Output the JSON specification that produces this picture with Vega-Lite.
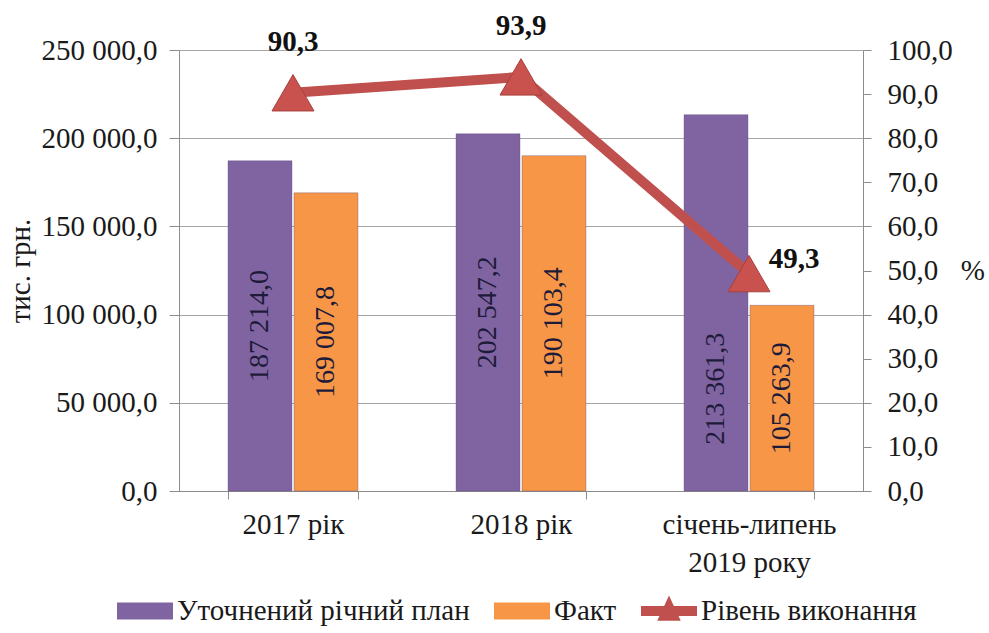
{
  "$schema": "https://vega.github.io/schema/vega-lite/v6.json",
  "width": 684,
  "height": 441,
  "autosize": {"type": "none"},
  "padding": {"left": 179, "top": 50, "right": 126, "bottom": 142},
  "background": "white",
  "config": {
    "locale": {"number": {"decimal": ",", "thousands": " ", "grouping": [3], "currency": ["", ""]}},
    "view": {"stroke": null},
    "font": "Liberation Serif",
    "text": {"font": "Liberation Serif"},
    "axis": {
      "labelFont": "Liberation Serif",
      "titleFont": "Liberation Serif",
      "labelColor": "#1a1a1a",
      "titleColor": "#1a1a1a",
      "labelFontSize": 29,
      "titleFontSize": 29,
      "titleFontWeight": "normal",
      "domainColor": "#8c8c8c",
      "tickColor": "#8c8c8c",
      "gridColor": "#a6a6a6"
    },
    "legend": {
      "orient": "none",
      "legendX": -62,
      "legendY": 533,
      "direction": "horizontal",
      "labelFont": "Liberation Serif",
      "labelFontSize": 29,
      "labelColor": "#1a1a1a",
      "labelLimit": 0,
      "symbolSize": 3136,
      "symbolStrokeWidth": 0,
      "columnPadding": 24,
      "labelOffset": 4
    }
  },
  "datasets": {
    "bars": [
      {"period": "2017 рік", "series": "Уточнений річний план", "value": 187214.0},
      {"period": "2017 рік", "series": "Факт", "value": 169007.8},
      {"period": "2018 рік", "series": "Уточнений річний план", "value": 202547.2},
      {"period": "2018 рік", "series": "Факт", "value": 190103.4},
      {"period": "січень-липень 2019 року", "series": "Уточнений річний план", "value": 213361.3},
      {"period": "січень-липень 2019 року", "series": "Факт", "value": 105263.9}
    ],
    "pct": [
      {"period": "2017 рік", "series": "Рівень виконання", "pct": 90.3},
      {"period": "2018 рік", "series": "Рівень виконання", "pct": 93.9},
      {"period": "січень-липень 2019 року", "series": "Рівень виконання", "pct": 49.3}
    ]
  },
  "encoding": {
    "x": {
      "field": "period",
      "type": "nominal",
      "sort": ["2017 рік", "2018 рік", "січень-липень 2019 року"],
      "scale": {"paddingInner": 0.43, "paddingOuter": 0.215},
      "axis": {
        "title": null,
        "labelAngle": 0,
        "tickBand": "extent",
        "tickSize": 8,
        "labelPadding": 11,
        "labelLineHeight": 38,
        "labelBaseline": "top",
        "labelExpr": "datum.value == 'січень-липень 2019 року' ? ['січень-липень', '2019 року'] : datum.label"
      }
    }
  },
  "layer": [
    {
      "data": {"name": "bars"},
      "mark": {"type": "bar", "stroke": "#5e4a7a", "strokeOpacity": 0.35, "strokeWidth": 1},
      "encoding": {
        "xOffset": {"field": "series", "type": "nominal", "sort": ["Уточнений річний план", "Факт"], "scale": {"paddingInner": 0.03}},
        "y": {
          "field": "value",
          "type": "quantitative",
          "scale": {"domain": [0, 250000], "nice": false},
          "axis": {
            "title": "тис. грн.",
            "values": [0, 50000, 100000, 150000, 200000, 250000],
            "format": ",.1f",
            "grid": true,
            "tickSize": 10,
            "labelPadding": 12,
            "titlePadding": 6
          }
        },
        "color": {
          "field": "series",
          "type": "nominal",
          "scale": {
            "domain": ["Уточнений річний план", "Факт", "Рівень виконання"],
            "range": ["#8064A2", "#F79646", "#C0504D"]
          },
          "legend": {"title": null}
        }
      }
    },
    {
      "data": {"name": "bars"},
      "encoding": {
        "xOffset": {"field": "series", "type": "nominal", "sort": ["Уточнений річний план", "Факт"]},
        "y": {"field": "value", "type": "quantitative", "scale": {"domain": [0, 500000], "nice": false}, "axis": null},
        "text": {"field": "value", "type": "quantitative", "format": ",.1f"}
      },
      "layer": [
        {
          "transform": [{"filter": "datum.value < 210000"}],
          "mark": {"type": "text", "angle": 270, "fontSize": 28, "font": "Liberation Serif", "color": "#1e1b3a", "baseline": "middle", "align": "center"}
        },
        {
          "transform": [{"filter": "datum.value > 210000"}],
          "mark": {"type": "text", "angle": 270, "fontSize": 28, "font": "Liberation Serif", "color": "#1e1b3a", "baseline": "middle", "align": "center", "dx": -86}
        }
      ]
    },
    {
      "data": {"name": "pct"},
      "encoding": {
        "y": {
          "field": "pct",
          "type": "quantitative",
          "scale": {"domain": [0, 100], "nice": false},
          "axis": {
            "orient": "right",
            "title": "%",
            "titleAngle": 0,
            "titleAlign": "left",
            "titleBaseline": "middle",
            "titlePadding": 8,
            "values": [0, 10, 20, 30, 40, 50, 60, 70, 80, 90, 100],
            "format": ".1f",
            "grid": false,
            "tickSize": 8,
            "labelPadding": 16
          }
        }
      },
      "layer": [
        {
          "mark": {"type": "line", "color": "#C0504D", "strokeWidth": 10},
          "encoding": {}
        },
        {
          "mark": {"type": "point", "shape": "triangle-up", "size": 1764, "filled": true, "opacity": 1, "color": "#C9524F", "stroke": "#a8403d", "strokeWidth": 1},
          "encoding": {}
        },
        {
          "transform": [{"filter": "datum.pct > 60"}],
          "mark": {"type": "text", "fontSize": 29, "font": "Liberation Serif", "fontWeight": "bold", "color": "#111111", "baseline": "alphabetic", "dy": -42},
          "encoding": {"text": {"field": "pct", "type": "quantitative", "format": ".1f"}}
        },
        {
          "transform": [{"filter": "datum.pct < 60"}],
          "mark": {"type": "text", "fontSize": 29, "font": "Liberation Serif", "fontWeight": "bold", "color": "#111111", "baseline": "alphabetic", "dy": -6, "dx": 45},
          "encoding": {"text": {"field": "pct", "type": "quantitative", "format": ".1f"}}
        },
        {
          "transform": [{"filter": "datum.pct < 0"}],
          "mark": {"type": "point", "filled": true, "opacity": 1},
          "encoding": {
            "color": {
              "field": "series",
              "type": "nominal",
              "scale": {
                "domain": ["Уточнений річний план", "Факт", "Рівень виконання"],
                "range": ["#8064A2", "#F79646", "#C0504D"]
              },
              "legend": {"title": null}
            },
            "shape": {
              "field": "series",
              "type": "nominal",
              "scale": {
                "domain": ["Уточнений річний план", "Факт", "Рівень виконання"],
                "range": ["M-1,-0.3H1V0.3H-1Z", "M-1,-0.3H1V0.3H-1Z", "M-1,-0.18H-0.173L0,-0.55L0.173,-0.18H1V0.18H0.34L0.42,0.35H-0.42L-0.34,0.18H-1Z"]
              },
              "legend": {"title": null}
            }
          }
        }
      ]
    }
  ],
  "resolve": {"scale": {"y": "independent"}}
}
